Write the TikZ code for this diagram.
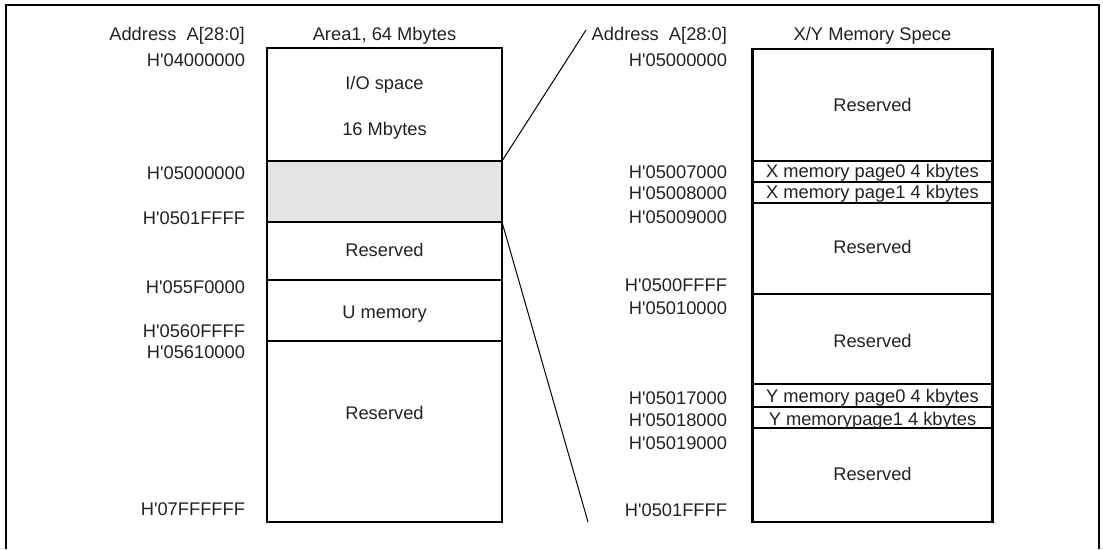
\documentclass[tikz,border=0pt]{standalone}
\usepackage{fontspec}
\setmainfont{Liberation Sans}
\usetikzlibrary{fit}
\definecolor{txt}{HTML}{222222}
\definecolor{shade}{HTML}{E4E4E4}
\newcommand\hq{H\textquotesingle}
\begin{document}
\begin{tikzpicture}[x=1pt,y=-1pt,
  every node/.style={font=\fontsize{18.3}{22}\selectfont, text=txt, inner sep=0pt, outer sep=0pt},
  region/.style={draw=black, line width=2.2pt, inner sep=0pt, outer sep=0pt},
  lab/.style={anchor=base east},
  ctext/.style={anchor=base},
  conn/.style={draw=black, line width=1pt}]
\useasboundingbox (0,0) rectangle (1103,549);
\draw[line width=2.5pt] (6,549) -- (6,5) -- (1099,5) -- (1099,549);

% left column
\node[ctext] (laddr) at (177,40.5) {Address\ \ A[28:0]};
\node[ctext] (ltitle) at (384.5,40.5) {Area1, 64 Mbytes};
\node[region, fit={(267,48) (502,161)}] (io) {};
\node[region, fill=shade, fit={(267,161) (502,222)}] (grayr) {};
\node[region, fit={(267,222) (502,280)}] (lres1) {};
\node[region, fit={(267,280) (502,341)}] (umem) {};
\node[region, fit={(267,341) (502,522)}] (lres2) {};
\node[ctext] (iot) at (384.5,89.5) {I/O space};
\node[ctext] (iosz) at (384.5,135.5) {16 Mbytes};
\node[ctext] (lres1t) at (384.5,256.5) {Reserved};
\node[ctext] (umemt) at (384.5,318.5) {U memory};
\node[ctext] (lres2t) at (384.5,419.5) {Reserved};
\node[lab] (la1) at (245,66) {\hq04000000};
\node[lab] (la2) at (245,179.5) {\hq05000000};
\node[lab] (la3) at (245,224.5) {\hq0501FFFF};
\node[lab] (la4) at (245,293.5) {\hq055F0000};
\node[lab] (la5) at (245,337.5) {\hq0560FFFF};
\node[lab] (la6) at (245,358.5) {\hq05610000};
\node[lab] (la7) at (245,515.5) {\hq07FFFFFF};

% right column
\node[lab] (raddr) at (727,40.5) {Address\ \ A[28:0]};
\node[ctext] (rtitle) at (872.5,40.5) {X/Y Memory Spece};
\node[region, fit={(752.5,49) (992.5,161)}] (r1) {};
\node[region, fit={(752.5,161) (992.5,182)}] (xp0) {};
\node[region, fit={(752.5,182) (992.5,203)}] (xp1) {};
\node[region, fit={(752.5,203) (992.5,294)}] (r2) {};
\node[region, fit={(752.5,294) (992.5,384)}] (r3) {};
\node[region, fit={(752.5,384) (992.5,407)}] (yp0) {};
\node[region, fit={(752.5,407) (992.5,428)}] (yp1) {};
\node[region, fit={(752.5,428) (992.5,522)}] (r4) {};
\node[ctext] (r1t) at (872.5,111.5) {Reserved};
\node[ctext] (xp0t) at (872.5,177) {X memory page0 4 kbytes};
\node[ctext] (xp1t) at (872.5,198) {X memory page1 4 kbytes};
\node[ctext] (r2t) at (872.5,253.5) {Reserved};
\node[ctext] (r3t) at (872.5,347.5) {Reserved};
\node[ctext] (yp0t) at (872.5,402) {Y memory page0 4 kbytes};
\node[ctext] (yp1t) at (872.5,425) {Y memorypage1 4 kbytes};
\node[ctext] (r4t) at (872.5,480.5) {Reserved};
\node[lab] (ra1) at (727,66.5) {\hq05000000};
\node[lab] (ra2) at (727,178.5) {\hq05007000};
\node[lab] (ra3) at (727,199.5) {\hq05008000};
\node[lab] (ra4) at (727,223.5) {\hq05009000};
\node[lab] (ra5) at (727,291.5) {\hq0500FFFF};
\node[lab] (ra6) at (727,314.5) {\hq05010000};
\node[lab] (ra7) at (727,404.5) {\hq05017000};
\node[lab] (ra8) at (727,426.5) {\hq05018000};
\node[lab] (ra9) at (727,449.5) {\hq05019000};
\node[lab] (ra10) at (727,516.5) {\hq0501FFFF};

% zoom connectors
\coordinate (ztop) at (586,30);
\coordinate (zbot) at (588,522);
\draw[conn] (grayr.north east) -- (ztop);
\draw[conn] (grayr.south east) -- (zbot);
\end{tikzpicture}
\end{document}
